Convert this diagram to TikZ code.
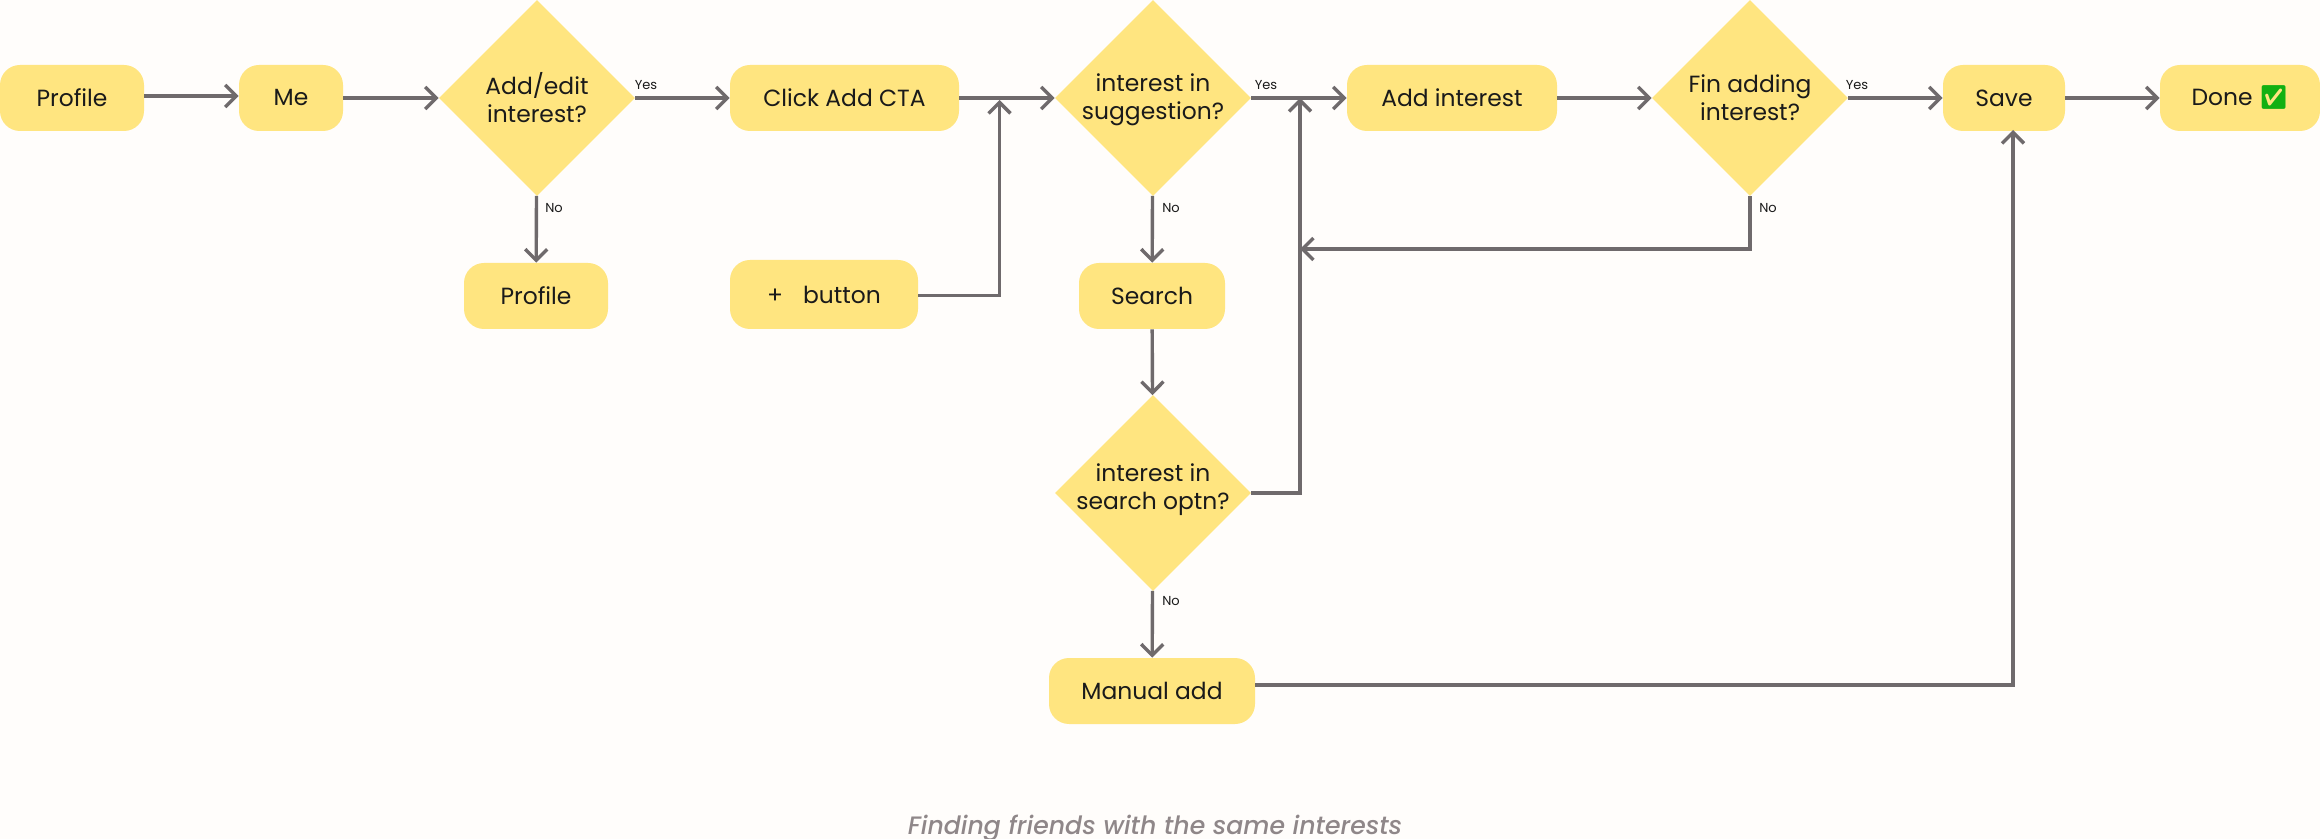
\documentclass[tikz,border=0pt]{standalone}
\usepackage{fontspec}
\usepackage{tikz}
\usetikzlibrary{arrows.meta,shapes.geometric}
\setmainfont{Poppins}
\newfontfamily\emojifont{Noto Emoji}
\newfontfamily\notefont{Poppins Medium Italic}
\definecolor{paper}{HTML}{FFFDFB}
\definecolor{flowfill}{HTML}{FFE580}
\definecolor{flowline}{HTML}{6F6A6C}
\definecolor{flowtext}{HTML}{1A1A1A}
\definecolor{notetext}{HTML}{8F8789}
\definecolor{checkgreen}{HTML}{12B012}
\tikzset{
  stepbox/.style={fill=flowfill, rounded corners=10pt, minimum height=33pt, inner sep=0pt, text=flowtext, font=\fontsize{11.7}{14}\selectfont},
  choice/.style={diamond, aspect=1, fill=flowfill, minimum width=98pt, minimum height=98pt, inner sep=-10pt, align=center, text=flowtext, font=\fontsize{11.7}{14}\selectfont},
  flow/.style={->, flowline, line width=1.7pt},
  answer/.style={text=flowtext, inner sep=0pt, font=\fontsize{6.5}{8}\selectfont}
}
\begin{document}
\begin{tikzpicture}[x=0.5pt, y=-0.5pt, >={Straight Barb[length=5.5pt, width=11pt, line width=1.7pt]}]
            % Background
            \path[fill=paper, use as bounding box] (0,0) rectangle (2320,839);

            % Top row
            \node[stepbox, minimum width=72pt] (profile) at (72,98) {Profile};
            \node[stepbox, minimum width=52pt] (me) at (291,98) {Me};
            \node[choice] (addedit) at (537,98) {Add/edit\\interest?};
            \node[stepbox, minimum width=114.5pt] (clickadd) at (844.5,98) {Click Add CTA};
            \node[choice] (suggest) at (1153,98) {\rule{0pt}{11pt}interest in\\suggestion?};
            \node[stepbox, minimum width=105pt] (addint) at (1452,98) {Add interest};
            \node[choice] (finadd) at (1750,98) {Fin adding\\interest?};
            \node[stepbox, minimum width=61pt] (save) at (2004,98) {Save};
            \node[stepbox, minimum width=80pt] (done) at (2240,98) {Done {\emojifont\textcolor{checkgreen}{✅}}};

            % Second row
            \node[stepbox, minimum width=72pt] (profiletwo) at (536,296) {Profile};
            \node[stepbox, minimum width=94pt, minimum height=34.5pt] (plusbtn) at (824,294.5) {+\hspace{10pt}button};
            \node[stepbox, minimum width=73pt] (search) at (1152,296) {Search};

            % Lower branch
            \node[choice] (searchopt) at (1153,493) {interest in\\search optn?\rule[-6pt]{0pt}{6pt}};
            \node[stepbox, minimum width=103pt] (manual) at (1152,691) {Manual add};

            % Caption
            \node[text=notetext, font=\fontsize{12.6}{16}\notefont] (note) at (1155,828) {Finding friends with the same interests};

            % Points where lines join
            \coordinate (joinclick) at (999.5,100);
            \coordinate (joinsug) at (1300,98);
            \coordinate (joinback) at (1300,249);
            \coordinate (savein) at (2013,130);

            % Connectors along the top
            \draw[flow] ([yshift=1pt]profile.east) -- ([yshift=1pt]me.west);
            \draw[flow] (me) -- (addedit);
            \draw[flow] (addedit) -- (clickadd);
            \draw[flow] (clickadd) -- (suggest);
            \draw[flow] (suggest) -- (addint);
            \draw[flow] (addint) -- (finadd);
            \draw[flow] (finadd) -- (save);
            \draw[flow] (save) -- (done);

            % Connectors going down
            \draw[flow] (addedit) -- (profiletwo);
            \draw[flow] (suggest) -- (search);
            \draw[flow] (search) -- (searchopt);
            \draw[flow] (searchopt) -- (manual);

            % Connectors coming back
            \draw[flow] ([yshift=-0.5pt]plusbtn.east) -| (joinclick);
            \draw[flow] (searchopt.east) -| (joinsug);
            \draw[flow] (finadd.south) |- (joinback);
            \draw[flow] ([yshift=3pt]manual.east) -| (savein);

            % Yes and No
            \node[answer] (yesa) at (646,85) {Yes};
            \node[answer] (noa) at (554,208) {No};
            \node[answer] (yesb) at (1266,85) {Yes};
            \node[answer] (nob) at (1171,208) {No};
            \node[answer] (yesc) at (1857,85) {Yes};
            \node[answer] (noc) at (1768,208) {No};
            \node[answer] (nod) at (1171,601) {No};
        \end{tikzpicture}
\end{document}
